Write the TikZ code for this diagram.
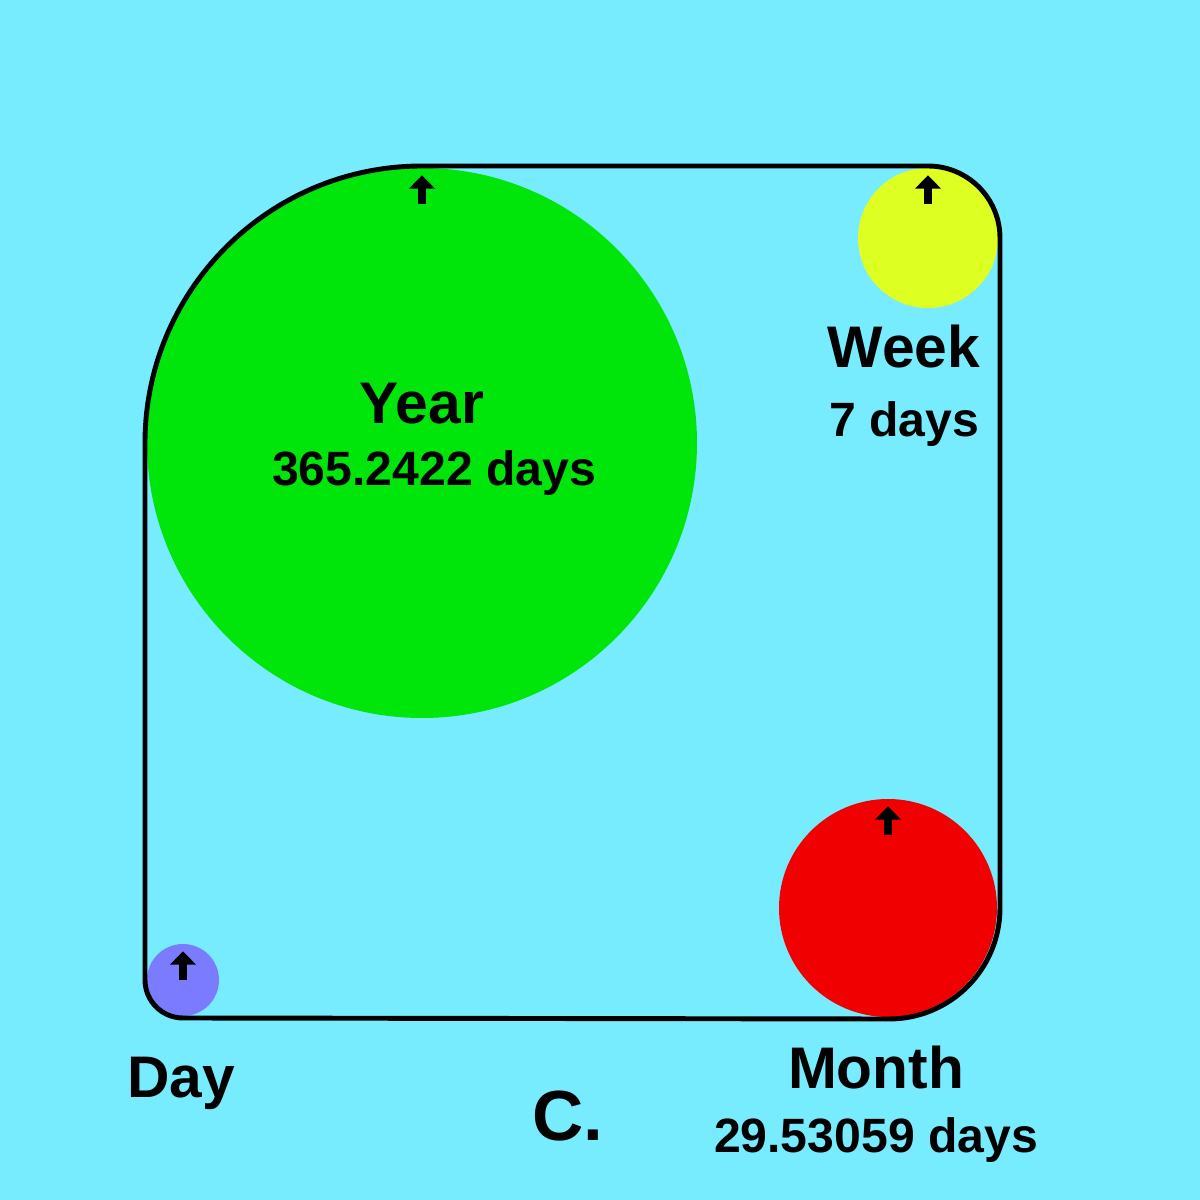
\documentclass[tikz,border=0pt]{standalone}
\usepackage{fontspec}
\setmainfont{Liberation Sans}
\usetikzlibrary{arrows.meta,calc}
\definecolor{bgc}{HTML}{78ECFF}
\definecolor{yearc}{HTML}{00E60A}
\definecolor{weekc}{HTML}{DDFF22}
\definecolor{monthc}{HTML}{F00000}
\definecolor{dayc}{HTML}{7B7BFF}
\tikzset{
  disc/.style={circle,inner sep=0pt,draw=none},
  tick/.style={line width=2pt,-{Triangle[width=7.2pt,length=3.8pt]}},
  big/.style={font=\bfseries\fontsize{16.7}{18}\selectfont,anchor=base,inner sep=0pt},
  small/.style={font=\bfseries\fontsize{13.7}{15}\selectfont,anchor=base,inner sep=0pt},
  huge/.style={font=\bfseries\fontsize{20.2}{22}\selectfont,anchor=base,inner sep=0pt},
  outline/.style={line width=1.4pt,draw=black}
}
\begin{document}
\begin{tikzpicture}
\useasboundingbox (0,0) rectangle (12,12);
\fill[bgc] (0,0) rectangle (12,12);
% circles
\node[disc,fill=yearc,minimum size=5.5cm] (year) at (4.22,7.57) {};
\node[disc,fill=weekc,minimum size=1.4cm] (week) at (9.28,9.62) {};
\node[disc,fill=monthc,minimum size=2.18cm] (month) at (8.88,2.92) {};
\node[disc,fill=dayc,minimum size=0.72cm] (day) at (1.83,2.20) {};
% outline
\draw[outline] (4.22,10.34) -- (9.28,10.34) arc[start angle=90,end angle=0,radius=0.72]
  -- (10.00,2.92) arc[start angle=0,end angle=-90,radius=1.11]
  -- (1.83,1.82) arc[start angle=-90,end angle=-180,radius=0.38]
  -- (1.45,7.57) arc[start angle=180,end angle=90,radius=2.77] -- cycle;
% arrows
\foreach \n in {year,week,month,day}{
  \coordinate (\n tip) at ($(\n.north)+(0,-0.08)$);
  \coordinate (\n tail) at ($(\n.north)+(0,-0.37)$);
  \draw[tick] (\n tail) -- (\n tip);
}
% labels
\node[big] (yearlbl) at (4.22,7.76) {Year};
\node[small] (yearval) at (4.34,7.14) {365.2422 days};
\node[big] (weeklbl) at (9.04,8.32) {Week};
\node[small] (weekval) at (9.04,7.63) {7 days};
\node[big] (daylbl) at (1.81,1.02) {Day};
\node[big] (monthlbl) at (8.76,1.12) {Month};
\node[small] (monthval) at (8.76,0.47) {29.53059 days};
\node[huge] (clbl) at (5.68,0.60) {C.};
\end{tikzpicture}
\end{document}
